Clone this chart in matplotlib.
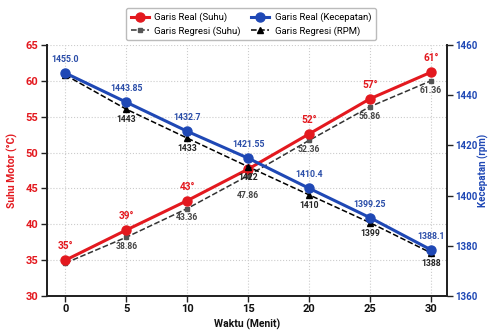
import matplotlib
matplotlib.use("Agg")
import matplotlib.pyplot as plt

plt.rcParams['font.family'] = ['Roboto', 'DejaVu Sans']

# Data (marker positions; label texts as printed on it)
waktu = [0, 5, 10, 15, 20, 25, 30]
suhu_real = [35, 39.2, 43.3, 47.7, 52.6, 57.5, 61.2]
suhu_real_labels = ["35°", "39°", "43°", "", "52°", "57°", "61°"]
suhu_regresi = [34.6, 38.2, 42.2, 46.8, 51.7, 56.4, 60.0]
suhu_regresi_labels = ["", "38.86", "43.36", "47.86", "52.36", "56.86", "61.36"]
rpm_real = [1448.8, 1437.2, 1425.6, 1414.9, 1402.9, 1391.2, 1378.4]
rpm_real_labels = ["1455.0", "1443.85", "1432.7", "1421.55", "1410.4", "1399.25", "1388.1"]
rpm_regresi = [1448.0, 1434.4, 1422.9, 1411.5, 1400.3, 1389.2, 1377.2]
rpm_regresi_labels = ["", "1443", "1433", "1422", "1410", "1399", "1388"]
left_ticks = [30, 35, 40, 45, 50, 55, 60, 65]
right_ticks = [1360, 1380, 1400, 1420, 1440, 1460]
x_ticks = [0, 5, 10, 15, 20, 25, 30]

RED = '#e3191f'
BLUE = '#1f48b5'
BLUE_TXT = '#2a4da8'

fig = plt.figure(figsize=(4.91, 3.33), dpi=100)
ax = fig.add_axes([0.096, 0.111, 0.814, 0.754])
ax2 = ax.twinx()

l1, = ax.plot(waktu, suhu_real, '-o', color=RED, lw=2.2, ms=6.5, zorder=3,
              label='Garis Real (Suhu)')
l2, = ax.plot(waktu, suhu_regresi, '--s', color='#333333', mfc='#555555', mec='#555555',
              lw=1.1, ms=3.5, zorder=2, label='Garis Regresi (Suhu)')
l3, = ax2.plot(waktu, rpm_real, '-o', color=BLUE, lw=2.2, ms=6.5, zorder=3,
               label='Garis Real (Kecepatan)')
l4, = ax2.plot(waktu, rpm_regresi, '--^', color='black', lw=1.1, ms=3.8, zorder=2,
               label='Garis Regresi (RPM)')

for x, y, t in zip(waktu, suhu_real, suhu_real_labels):
    if t:
        ax.annotate(t, (x, y), xytext=(0, 6.5), textcoords='offset points', ha='center',
                    va='bottom', color=RED, fontsize=7.3, fontweight='bold')
for x, y, t in zip(waktu, suhu_regresi, suhu_regresi_labels):
    if t:
        dy = -11 if x == 15 else -3.5
        ax.annotate(t, (x, y), xytext=(0, dy), textcoords='offset points', ha='center',
                    va='top', color='#444444', fontsize=6.2, fontweight='bold')
for x, y, t in zip(waktu, rpm_real, rpm_real_labels):
    ax2.annotate(t, (x, y), xytext=(0, 6.5), textcoords='offset points', ha='center',
                 va='bottom', color=BLUE_TXT, fontsize=6.3, fontweight='bold')
for x, y, t in zip(waktu, rpm_regresi, rpm_regresi_labels):
    if t:
        ax2.annotate(t, (x, y), xytext=(0, -4.5), textcoords='offset points', ha='center',
                     va='top', color='#222222', fontsize=6.2, fontweight='bold')

ax.set_xlim(-1.5, 31.3)
ax.set_ylim(30, 65)
ax2.set_ylim(1360, 1460)
ax.set_xticks(x_ticks)
ax.set_yticks(left_ticks)
ax2.set_yticks(right_ticks)

ax.grid(True, linestyle=':', color='#cccccc', lw=0.8)
ax.set_axisbelow(True)

for a in (ax, ax2):
    a.spines['top'].set_visible(False)
    for s in ('left', 'right', 'bottom'):
        a.spines[s].set_linewidth(1.3)
        a.spines[s].set_color('#222222')

ax.tick_params(axis='y', labelcolor=RED, color='#222222', labelsize=8, length=4, width=1, pad=2.5)
ax.tick_params(axis='x', labelcolor='#111111', color='#222222', labelsize=8, length=4, width=1, pad=2)
ax2.tick_params(axis='y', labelcolor=BLUE, color='#222222', labelsize=7, length=4, width=1, pad=2)
for lab in ax.get_yticklabels() + ax.get_xticklabels() + ax2.get_yticklabels():
    lab.set_fontweight('bold')

ax.set_xlabel('Waktu (Menit)', fontsize=7.5, fontweight='bold', color='#111111', labelpad=3)
ax.set_ylabel('Suhu Motor (°C)', fontsize=7.5, fontweight='bold', color=RED, labelpad=5)
ax2.set_ylabel('Kecepatan (rpm)', fontsize=7, fontweight='bold', color=BLUE)
ax2.yaxis.set_label_coords(1.0925, 0.5)
ax2.yaxis.label.set_va('center')

leg = ax.legend(handles=[l1, l2, l3, l4], loc='lower center', bbox_to_anchor=(0.51, 1.0),
                ncol=2, fontsize=6.8, frameon=True, fancybox=True, edgecolor='#aaaaaa',
                handlelength=1.9, columnspacing=1.1, borderpad=0.5, labelspacing=0.4,
                handletextpad=0.6)
leg.set_zorder(10)

fig.savefig('out.png', dpi=100)
